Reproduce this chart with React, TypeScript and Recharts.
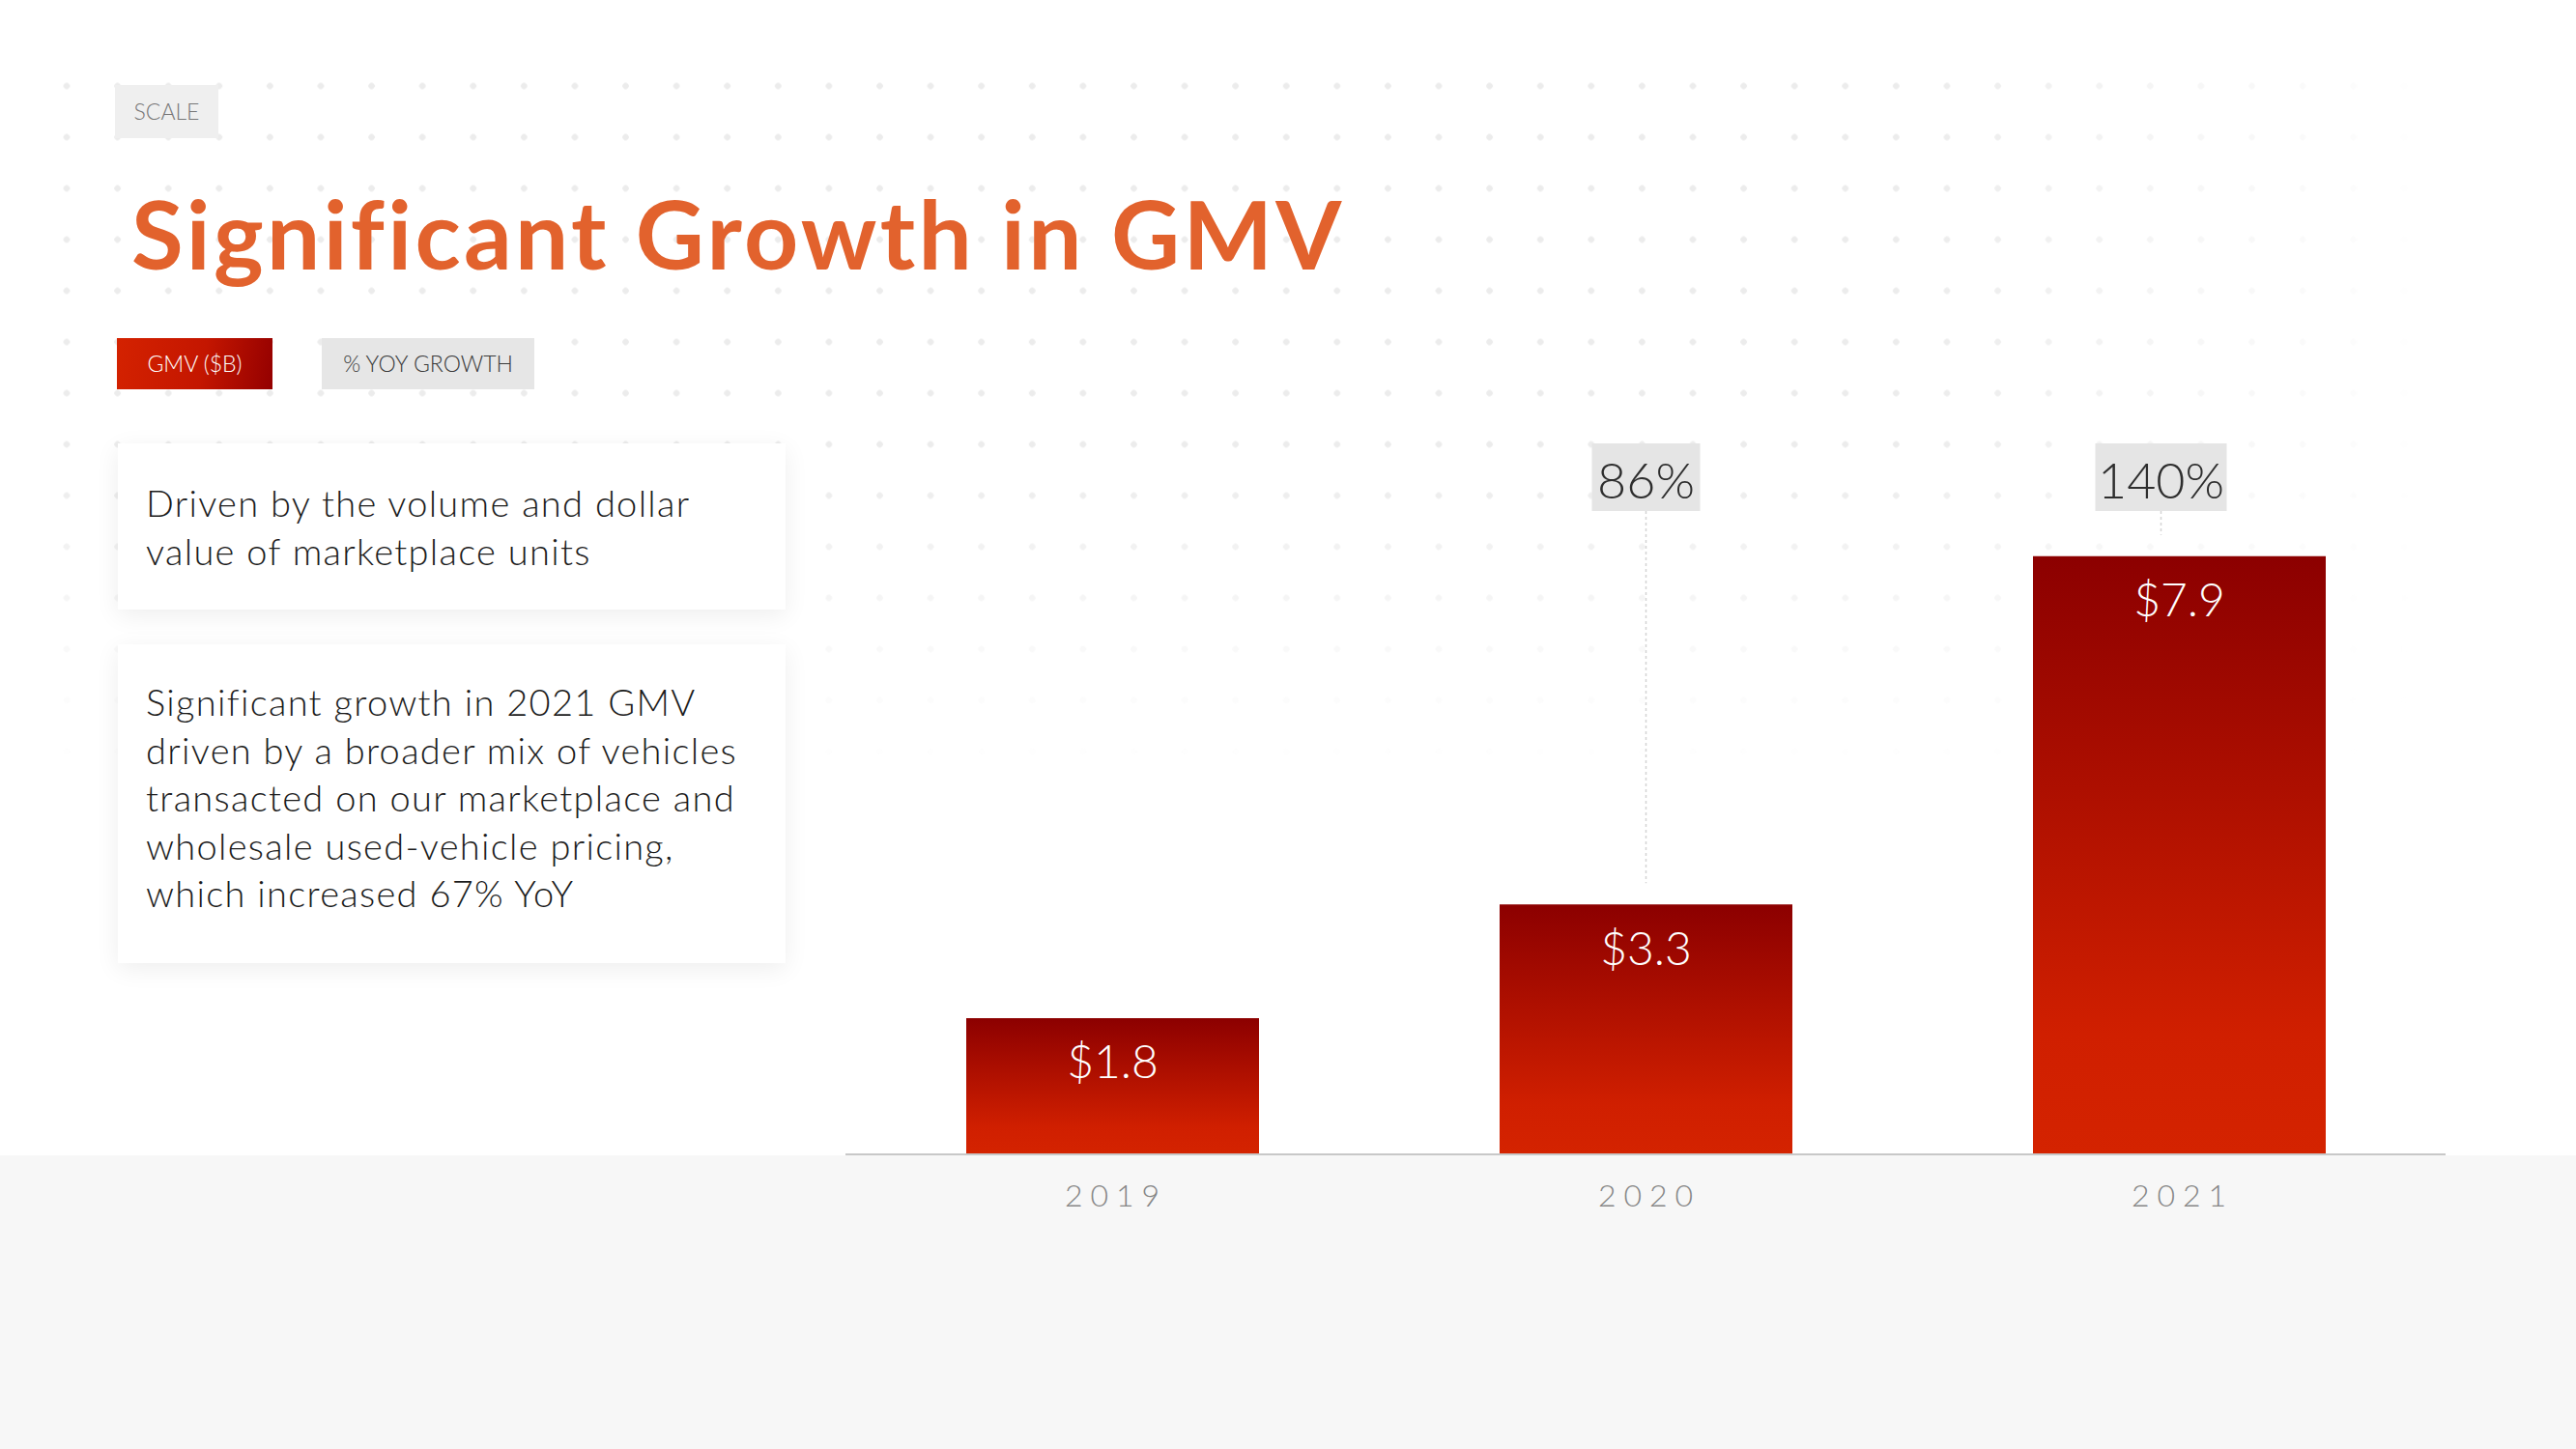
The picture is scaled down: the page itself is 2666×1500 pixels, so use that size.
import React from 'react';
import { BarChart, Bar, XAxis, YAxis, LabelList } from 'recharts';

// chart values
const years = ['2019', '2020', '2021'];
const gmvBillions = [1.8, 3.3, 7.9];
const yoyGrowthPct: Array<number | null> = [null, 86, 140];

const chartData = years.map((year, i) => ({
  year,
  gmv: gmvBillions[i],
  yoy: yoyGrowthPct[i],
}));

const FONT = 'Lato, "Open Sans", "DejaVu Sans", sans-serif';
const PCT_BOX_TOP = 459;
const PCT_BOX_H = 70;
// the source slide nudges the last growth tag a little left of its bar
const growthTagNudge = [0, 0, -19];

const ValueLabel = (props: any) => {
  const { x, y, width, value } = props;
  return (
    <text
      x={x + width / 2}
      y={y + 44}
      textAnchor="middle"
      dominantBaseline="central"
      fill="#ffffff"
      fontFamily={FONT}
      fontWeight={300}
      fontSize={48}
    >
      ${Number(value).toFixed(1)}
    </text>
  );
};

const GrowthLabel = (props: any) => {
  const { x, y, width, value, index } = props;
  if (value === null || value === undefined) return null;
  const label = `${value}%`;
  const cx = x + width / 2 + (growthTagNudge[index] || 0);
  const boxW = label.length * 24 + 40;
  return (
    <g>
      <line
        x1={cx}
        x2={cx}
        y1={PCT_BOX_TOP + PCT_BOX_H}
        y2={y - 22}
        stroke="#d4d4d4"
        strokeWidth={1.5}
        strokeDasharray="3 3"
      />
      <rect x={cx - boxW / 2} y={PCT_BOX_TOP} width={boxW} height={PCT_BOX_H} fill="#e5e5e5" />
      <text
        x={cx}
        y={PCT_BOX_TOP + PCT_BOX_H / 2 + 2}
        textAnchor="middle"
        dominantBaseline="central"
        fill="#2e2e2e"
        fontFamily={FONT}
        fontWeight={300}
        fontSize={52}
      >
        {label}
      </text>
    </g>
  );
};

const YearTick = (props: any) => {
  const { x, y, payload } = props;
  return (
    <text
      x={x + 4}
      y={y + 33}
      textAnchor="middle"
      dominantBaseline="central"
      fill="#868686"
      fontFamily={FONT}
      fontWeight={300}
      fontSize={32}
      letterSpacing={8}
    >
      {payload.value}
    </text>
  );
};

const cardStyle: React.CSSProperties = {
  position: 'absolute',
  left: 122,
  width: 691,
  background: '#ffffff',
  boxShadow: '0 6px 24px rgba(0,0,0,0.07)',
  boxSizing: 'border-box',
  paddingLeft: 29,
  fontFamily: FONT,
  fontWeight: 300,
  fontSize: 38,
  letterSpacing: '1.3px',
  lineHeight: '49.5px',
  color: '#1c1c1c',
  whiteSpace: 'nowrap',
};

const App: React.FC = () => {
  return (
    <div
      style={{
        position: 'absolute',
        left: 0,
        top: 0,
        width: 2666,
        height: 1500,
        background: '#ffffff',
        overflow: 'hidden',
        fontFamily: FONT,
      }}
    >
      {/* dot grid */}
      <div
        style={{
          position: 'absolute',
          left: 40,
          top: 60,
          width: 2480,
          height: 760,
          backgroundImage: 'radial-gradient(circle, #ececec 3px, rgba(255,255,255,0) 3.6px)',
          backgroundSize: '52.6px 53px',
          backgroundPosition: '2.7px 2.5px',
          WebkitMaskImage:
            'linear-gradient(to bottom, #000 0%, #000 55%, rgba(0,0,0,0.2) 85%, transparent 100%), linear-gradient(to right, #000 0%, #000 78%, transparent 100%)',
          WebkitMaskComposite: 'source-in',
          maskComposite: 'intersect',
        }}
      />
      {/* floor band */}
      <div
        style={{
          position: 'absolute',
          left: 0,
          top: 1196,
          width: 2666,
          height: 304,
          background: '#f7f7f7',
        }}
      />

      <div style={{ position: 'absolute', left: 0, top: 0 }}>
        <BarChart
          width={2666}
          height={1500}
          data={chartData}
          margin={{ top: 411, right: 135, bottom: 245, left: 875 }}
        >
          <defs>
            <linearGradient id="gmvGrad" x1="0" y1="0" x2="0" y2="1">
              <stop offset="0%" stopColor="#8c0000" />
              <stop offset="80%" stopColor="#d01f00" />
              <stop offset="100%" stopColor="#d42300" />
            </linearGradient>
          </defs>
          <XAxis
            dataKey="year"
            height={60}
            axisLine={{ stroke: '#c8c8c8', strokeWidth: 2 }}
            tickLine={false}
            tick={<YearTick />}
            interval={0}
          />
          <YAxis hide domain={[0, 10]} />
          <Bar dataKey="gmv" fill="url(#gmvGrad)" barSize={303} isAnimationActive={false}>
            <LabelList dataKey="gmv" content={<ValueLabel />} />
            <LabelList dataKey="yoy" content={<GrowthLabel />} />
          </Bar>
        </BarChart>
      </div>

      {/* header */}
      <div
        style={{
          position: 'absolute',
          left: 119,
          top: 88,
          width: 107,
          height: 55,
          background: '#efefef',
          color: '#777777',
          fontWeight: 300,
          fontSize: 23,
          lineHeight: '55px',
          textAlign: 'center',
        }}
      >
        SCALE
      </div>
      <div
        style={{
          position: 'absolute',
          left: 136,
          top: 192,
          fontWeight: 700,
          fontSize: 98,
          letterSpacing: '3.3px',
          lineHeight: 1,
          color: '#e2622d',
          whiteSpace: 'nowrap',
        }}
      >
        Significant Growth in GMV
      </div>

      {/* legend */}
      <div
        style={{
          position: 'absolute',
          left: 121,
          top: 350,
          width: 161,
          height: 53,
          background: 'linear-gradient(100deg, #d42200 0%, #c41600 55%, #940000 100%)',
          color: '#ffffff',
          fontWeight: 300,
          fontSize: 23,
          lineHeight: '53px',
          textAlign: 'center',
        }}
      >
        GMV ($B)
      </div>
      <div
        style={{
          position: 'absolute',
          left: 333,
          top: 350,
          width: 220,
          height: 53,
          background: '#e6e6e6',
          color: '#3a3a3a',
          fontWeight: 300,
          fontSize: 23,
          lineHeight: '53px',
          textAlign: 'center',
        }}
      >
        % YOY GROWTH
      </div>

      {/* commentary cards */}
      <div style={{ ...cardStyle, top: 459, height: 172, paddingTop: 37 }}>
        Driven by the volume and dollar
        <br />
        value of marketplace units
      </div>
      <div style={{ ...cardStyle, top: 667, height: 330, paddingTop: 35 }}>
        Significant growth in 2021 GMV
        <br />
        driven by a broader mix of vehicles
        <br />
        transacted on our marketplace and
        <br />
        wholesale used-vehicle pricing,
        <br />
        which increased 67% YoY
      </div>
    </div>
  );
};

export default App;
